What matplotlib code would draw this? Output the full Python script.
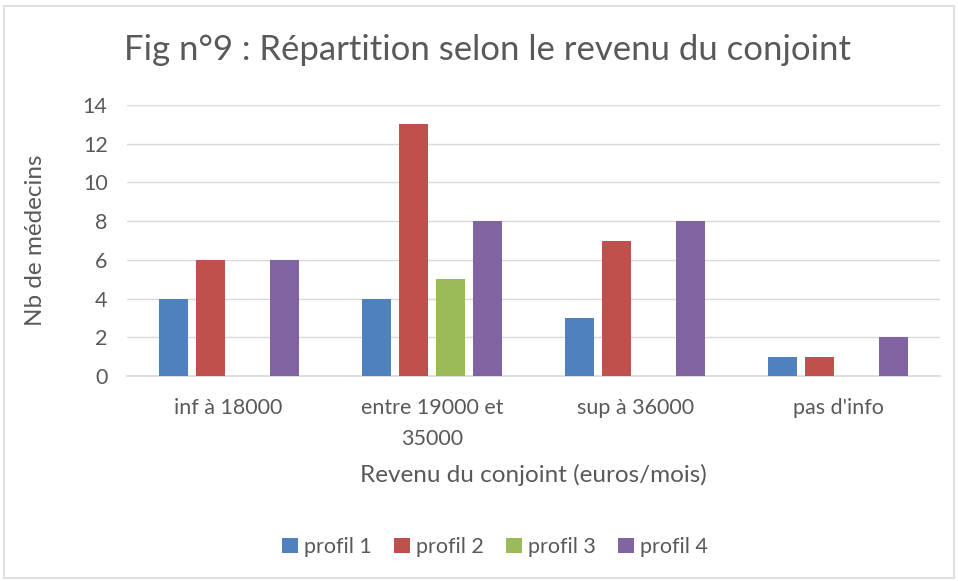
import matplotlib
matplotlib.use("Agg")
import matplotlib.pyplot as plt
import numpy as np
from matplotlib.patches import Rectangle

categories = ["inf à 18000", "entre 19000 et\n35000", "sup à 36000", "pas d'info"]
series_names = ["profil 1", "profil 2", "profil 3", "profil 4"]
profil1 = [4, 4, 3, 1]
profil2 = [6, 13, 7, 1]
profil3 = [0, 5, 0, 0]
profil4 = [6, 8, 8, 2]
colors = ["#4F81BD", "#C0504D", "#9BBB59", "#8064A2"]

plt.rcParams['font.family'] = ['Lato', 'DejaVu Sans']
txt = "#595959"

fig = plt.figure(figsize=(9.58, 5.81), dpi=100)
ax = fig.add_axes([127/958, 1-376/581, (940-127)/958, (376-105)/581])

x = np.arange(len(categories))
w = 0.143
step = 0.182
data = [profil1, profil2, profil3, profil4]
for i, (vals, c, name) in enumerate(zip(data, colors, series_names)):
    off = (i - 1.5) * step
    ax.bar(x + off, vals, width=w, color=c, label=name, zorder=3)

ax.set_xlim(-0.5, len(categories) - 0.5)
ax.set_ylim(0, 14)
ax.set_yticks(range(0, 15, 2))
ax.grid(axis='y', color='#d9d9d9', linewidth=1, zorder=0)
for s in ['top', 'right', 'left']:
    ax.spines[s].set_visible(False)
ax.spines['bottom'].set_color('#d9d9d9')
ax.spines['bottom'].set_linewidth(1.2)
ax.tick_params(axis='both', length=0, colors=txt, labelsize=15.5)
ax.tick_params(axis='x', pad=16)
ax.tick_params(axis='y', pad=14)
ax.set_xticks(x)
ax.set_xticklabels(categories, linespacing=1.65)

ax.set_ylabel("Nb de médecins", fontsize=17.5, color=txt)
ax.yaxis.set_label_coords((35-127)/813, 0.5)
ax.set_xlabel("Revenu du conjoint (euros/mois)", fontsize=17.5, color=txt)
ax.xaxis.set_label_coords(0.5, (376-475)/271)
ax.xaxis.label.set_va('center')
ax.yaxis.label.set_va('center')
fig.text(487/958, 1-50/581, "Fig n°9 : Répartition selon le revenu du conjoint",
         ha='center', va='center', fontsize=25, color=txt)

fig.legend(loc='center', bbox_to_anchor=(495/958, 1-547/581), ncol=4, frameon=False,
           fontsize=15.5, handlelength=0.75, handleheight=0.75, handletextpad=0.3,
           columnspacing=1.0, labelcolor=txt)

fig.patches.append(Rectangle((4/958, 3/581), 950/958, 572/581, transform=fig.transFigure,
                             fill=False, edgecolor='#d9d9d9', linewidth=1.2))

fig.savefig("out.png", dpi=100)
